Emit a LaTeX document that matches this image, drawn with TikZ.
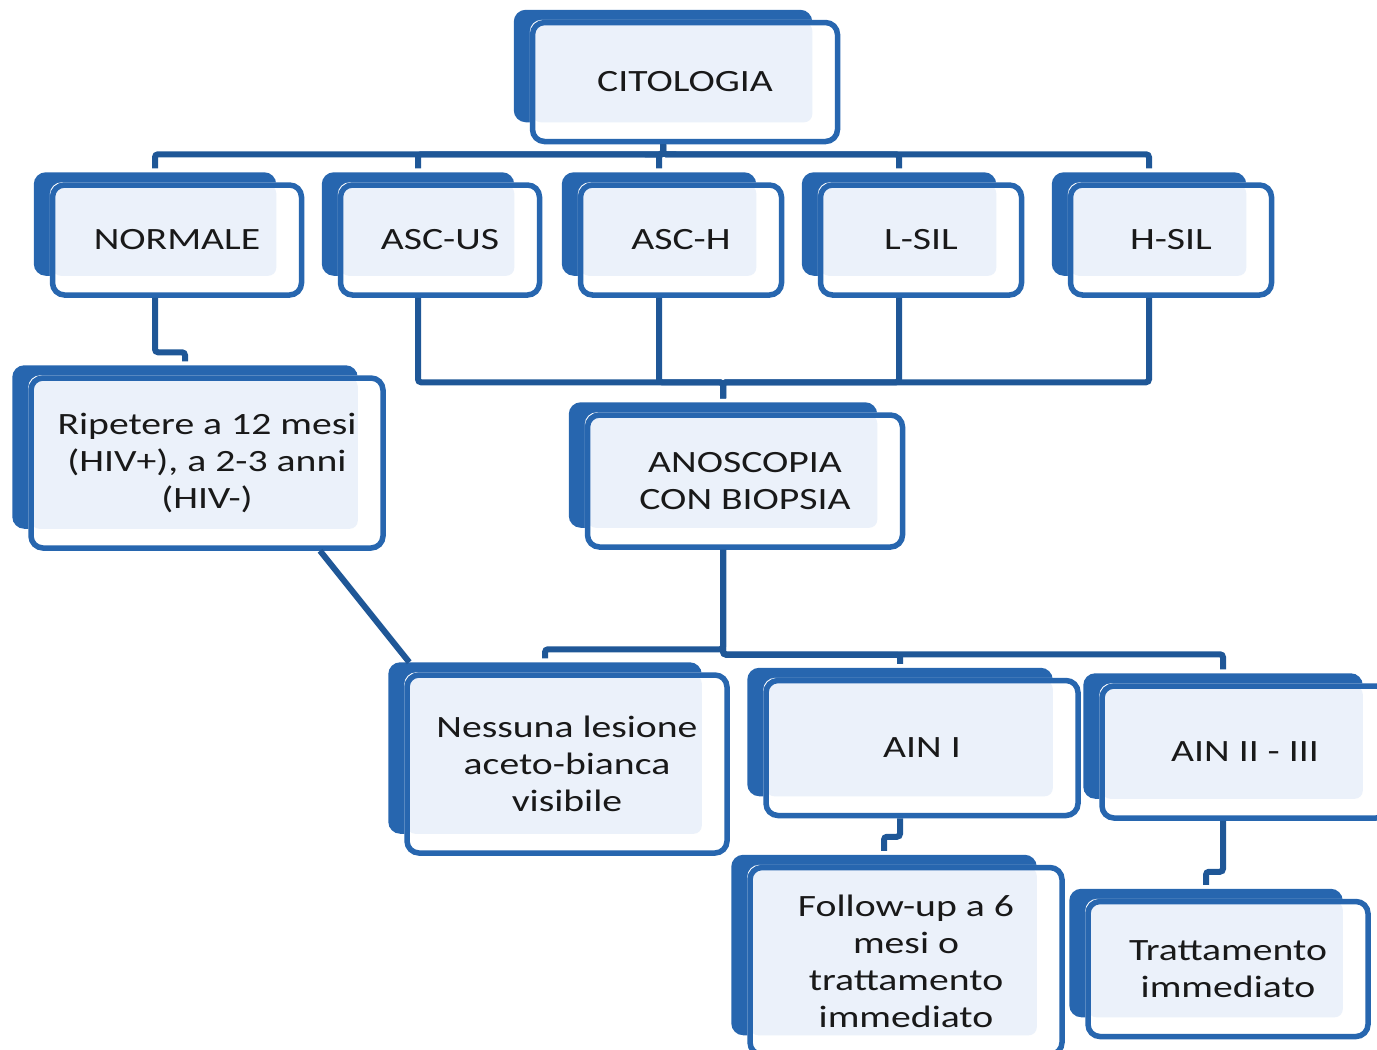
\documentclass[tikz,border=0pt]{standalone}
\usepackage{fontspec}
\setmainfont{Carlito}[FakeStretch=1.28]
\usetikzlibrary{calc, backgrounds}
\definecolor{cdblue}{HTML}{2766AF}
\definecolor{cdline}{HTML}{1F5797}
\definecolor{cdlight}{HTML}{EBF1FA}

\begin{document}
\begin{tikzpicture}[x=1pt, y=-1pt,
  every node/.style={font=\fontsize{31}{37}\selectfont},
  cbox/.style={rectangle, draw=cdblue, line width=5.5pt, rounded corners=12pt, inner sep=0pt, align=center, text=black!90},
  link/.style={draw=cdline, line width=6pt, rounded corners=3pt},
]
\useasboundingbox (0,0) rectangle (1377,1050);

% top level
\node[cbox, minimum width=305pt, minimum height=119pt] (cit) at (685,82) {CITOLOGIA};

% citology results
\node[cbox, minimum width=249pt, minimum height=110pt] (nor) at (177,240) {NORMALE};
\node[cbox, minimum width=199pt, minimum height=110pt] (ascus) at (440,240) {ASC-US};
\node[cbox, minimum width=201pt, minimum height=110pt] (asch) at (681,240) {ASC-H};
\node[cbox, minimum width=201pt, minimum height=110pt] (lsil) at (921,240) {L-SIL};
\node[cbox, minimum width=201pt, minimum height=110pt] (hsil) at (1171,240) {H-SIL};

% second level
\node[cbox, minimum width=352pt, minimum height=170pt] (rip) at (207,463) {Ripetere a 12 mesi\\(HIV+), a 2-3 anni\\(HIV-)};
\node[cbox, minimum width=315pt, minimum height=132pt] (ano) at (745,481) {ANOSCOPIA\\CON BIOPSIA};

% anoscopy results
\node[cbox, minimum width=320pt, minimum height=178pt] (nes) at (567,764) {Nessuna lesione\\aceto-bianca\\visibile};
\node[cbox, minimum width=312pt, minimum height=135pt] (ain1) at (922,748) {AIN I};
\node[cbox, minimum width=286pt, minimum height=132pt] (ain2) at (1245,752) {AIN II - III};

% follow-up
\node[cbox, minimum width=312pt, minimum height=187pt] (fol) at (906,961) {Follow-up a 6\\mesi o\\trattamento\\immediato};
\node[cbox, minimum width=280pt, minimum height=135pt] (tra) at (1228,969) {Trattamento\\immediato};

\foreach \n in {cit,nor,ascus,asch,lsil,hsil,rip,ano,nes,ain1,ain2,fol,tra} {
  \coordinate (\n-in) at ($(\n.north)+(-22,-14)$);
  \coordinate (\n-out) at ($(\n.south)+(-22,0)$);
}

% shadow boxes behind
\begin{scope}[on background layer]
\foreach \n in {cit,nor,ascus,asch,lsil,hsil,rip,ano,nes,ain1,ain2,fol,tra} {
  \fill[cdblue, rounded corners=12pt] ($(\n.north west)+(-16,-10)$) rectangle ($(\n.south east)+(-28,-22)$);
  \fill[white, rounded corners=12pt] (\n.north west) rectangle (\n.south east);
  \fill[cdlight, rounded corners=8pt] ($(\n.north west)+(3,3)$) rectangle ($(\n.south east)+(-28,-22)$);
}
\end{scope}

% connectors
\foreach \n in {nor,ascus,asch,lsil,hsil}
  \draw[link] (cit-out) |- ([yshift=14pt]\n-in) -- (\n-in);
\draw[link] (nor-out) |- ([yshift=9pt]rip-in) -- (rip-in);
\foreach \n in {ascus,asch,lsil,hsil}
  \draw[link] (\n-out) |- ([yshift=16pt]ano-in) -- (ano-in);
\draw[link] (ano-out) |- ([yshift=9pt]nes-in) -- (nes-in);
\draw[link] (ano-out) |- ([yshift=9pt]ain1-in) -- (ain1-in);
\draw[link] (ano-out) |- ([yshift=15pt]ain2-in) -- (ain2-in);
\draw[link] ($(rip.south)+(113,0)$) -- ($(nes.north west)+(5,-10)$);
\draw[link] (ain1-out) |- ([yshift=14pt]fol-in) -- (fol-in);
\draw[link] (ain2-out) |- ([yshift=13pt]tra-in) -- (tra-in);
\end{tikzpicture}
\end{document}
